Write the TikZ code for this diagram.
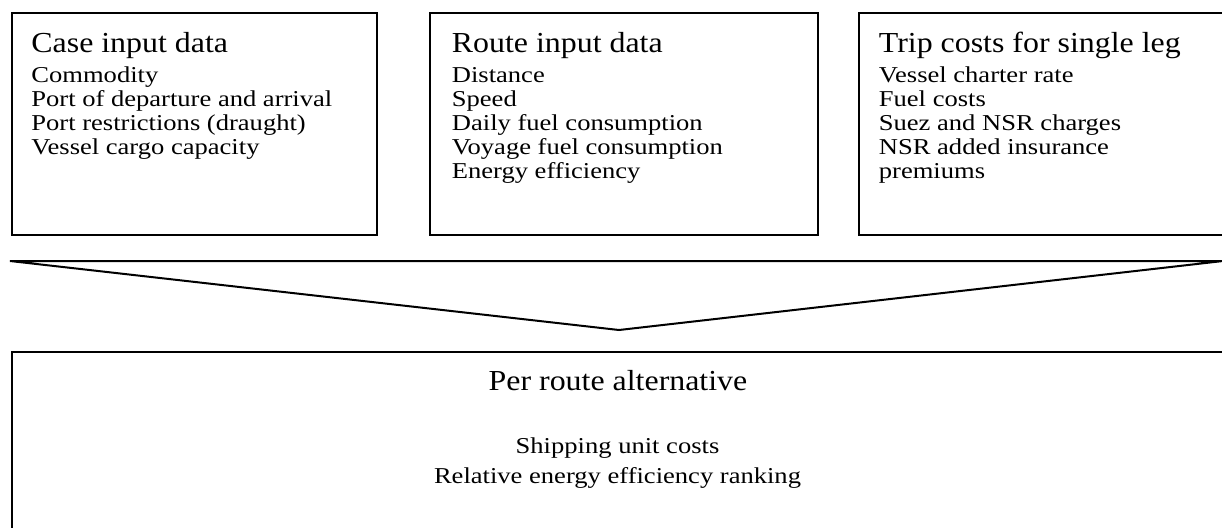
\documentclass[tikz,border=0pt]{standalone}
\usepackage{fontspec}
\setmainfont{Liberation Serif}
\newfontfamily\headfamily[FakeStretch=1.1]{Liberation Serif}
\newfontfamily\itemfamily[FakeStretch=1.17]{Liberation Serif}
\usetikzlibrary{positioning}
\newcommand{\headsize}{\headfamily\fontsize{14.5}{17}\selectfont}
\newcommand{\itemsize}{\itemfamily\fontsize{11.35}{12}\selectfont}
\tikzset{
  dataBox/.style={draw, line width=1pt, anchor=north west, inner sep=0pt, minimum height=111pt},
  headLabel/.style={font=\headsize, anchor=base west, inner sep=0pt},
  itemLine/.style={font=\itemsize, anchor=base west, inner sep=0pt},
  funnel/.style={line width=1pt}
}

\begin{document}
\begin{tikzpicture}[x=0.5pt,y=-0.5pt]
  \useasboundingbox (0,0) rectangle (1222,527);
  % three input boxes
  \node[dataBox, minimum width=182.75pt] (caseBox) at (10.5,12) {};
  \node[dataBox, minimum width=194pt] (routeInBox) at (429,12) {};
  \node[dataBox, minimum width=187pt] (tripBox) at (858,12) {};
  \node[headLabel] (caseHead) at (31,52) {Case input data};
  \foreach \txt [count=\i] in {Commodity, Port of departure and arrival, Port restrictions (draught), Vessel cargo capacity}
    \node[itemLine] (case\i) at (31,{58+24*\i}) {\txt};
  \node[headLabel] (routeInHead) at (451.5,52) {Route input data};
  \foreach \txt [count=\i] in {Distance, Speed, Daily fuel consumption, Voyage fuel consumption, Energy efficiency}
    \node[itemLine] (routeIn\i) at (451.5,{58+24*\i}) {\txt};
  \node[headLabel] (tripHead) at (878.5,52) {Trip costs for single leg};
  \foreach \txt [count=\i] in {Vessel charter rate, Fuel costs, Suez and NSR charges, NSR added insurance, premiums}
    \node[itemLine] (trip\i) at (878.5,{58+24*\i}) {\txt};
  % funnel
  \coordinate (funL) at (10,261);
  \coordinate (funR) at (1223,261);
  \coordinate (funTip) at (619,330);
  \draw[funnel] (funL) -- (funR) -- (funTip) -- cycle;
  % output box
  \node[dataBox, minimum width=610.5pt, minimum height=100pt] (altBox) at (11,351) {};
  \node[headLabel, anchor=base] (altHead) at (618,390) {Per route alternative};
  \node[itemLine, anchor=base] (alt1) at (617.5,453) {Shipping unit costs};
  \node[itemLine, anchor=base] (alt2) at (617.5,483) {Relative energy efficiency ranking};
\end{tikzpicture}
\end{document}
